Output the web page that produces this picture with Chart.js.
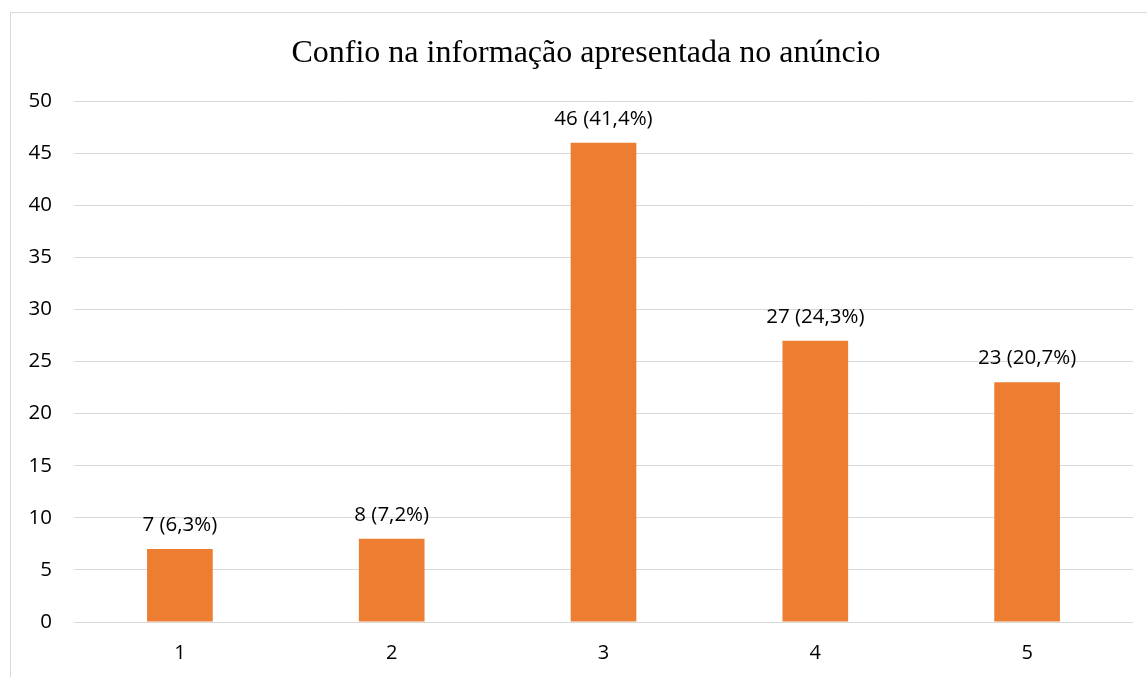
<!DOCTYPE html>
<html>
<head>
<meta charset="utf-8">
<script src="https://cdn.jsdelivr.net/npm/chart.js@4"></script>
<style>
  html, body { margin: 0; padding: 0; background: #fff; overflow: hidden; }
  #wrap { position: absolute; left: 0; top: 0; width: 1147px; height: 677px; }
</style>
</head>
<body>
<div id="wrap"><canvas id="chart" width="1147" height="677"></canvas></div>
<script>
// Respostas por nível de confiança
var categories = ['1', '2', '3', '4', '5'];
var counts = [7, 8, 46, 27, 23];
var yTicks = [0, 5, 10, 15, 20, 25, 30, 35, 40, 45, 50];

var total = counts.reduce(function (a, b) { return a + b; }, 0);

function pctLabel(v) {
    var p = (v / total * 100).toFixed(1).replace('.', ',');
    return v + ' (' + p + '%)';
}

// moldura cinza à volta do gráfico; o título fica centrado na moldura
var framePlugin = {
    id: 'frame',
    afterLayout: function (chart) {
        if (chart.titleBlock) {
            chart.titleBlock.left = 39;
        }
    },
    beforeDraw: function (chart) {
        var ctx = chart.ctx;
        ctx.save();
        ctx.fillStyle = '#fff';
        ctx.fillRect(0, 0, chart.width, chart.height);
        ctx.strokeStyle = '#d9d9d9';
        ctx.lineWidth = 1;
        ctx.strokeRect(10.5, 12.5, chart.width + 20, chart.height + 20);
        ctx.restore();
    }
};

// rótulos de valor por cima das barras
var valueLabels = {
    id: 'valueLabels',
    afterDatasetsDraw: function (chart) {
        var ctx = chart.ctx;
        var meta = chart.getDatasetMeta(0);
        ctx.save();
        ctx.font = '20.5px "Open Sans", sans-serif';
        ctx.fillStyle = '#000';
        ctx.textAlign = 'center';
        ctx.textBaseline = 'alphabetic';
        meta.data.forEach(function (bar, i) {
            ctx.fillText(pctLabel(counts[i]), bar.x, bar.y - 18);
        });
        ctx.restore();
    }
};

var ctx = document.getElementById('chart').getContext('2d');
var myChart = new Chart(ctx, {
    type: 'bar',
    data: {
        labels: categories,
        datasets: [{
            data: counts,
            backgroundColor: '#ED7D31',
            borderWidth: 0,
            categoryPercentage: 1,
            barPercentage: 0.31
        }]
    },
    options: {
        responsive: false,
        animation: false,
        layout: { padding: { left: 0, right: 14, top: 20, bottom: 0 } },
        plugins: {
            legend: { display: false },
            tooltip: { enabled: false },
            title: {
                display: true,
                text: 'Confio na informação apresentada no anúncio',
                color: '#000',
                font: { family: '"Liberation Serif", "Times New Roman", serif', size: 32, weight: 'normal', lineHeight: 1.2 },
                padding: { top: 14.8, bottom: 27.8 }
            }
        },
        scales: {
            x: {
                grid: { display: false, drawTicks: false },
                border: { display: false },
                ticks: {
                    color: '#000',
                    font: { family: '"Open Sans", sans-serif', size: 20 },
                    padding: 19
                },
                afterFit: function (s) { s.height = 55; }
            },
            y: {
                min: 0,
                max: 50,
                afterBuildTicks: function (s) {
                    s.ticks = yTicks.map(function (v) { return { value: v }; });
                },
                grid: { color: '#d9d9d9', lineWidth: 1, drawTicks: false },
                border: { display: false },
                ticks: {
                    color: '#000',
                    font: { family: '"Open Sans", sans-serif', size: 20.5 },
                    padding: 22
                },
                afterFit: function (s) { s.width = 74; }
            }
        }
    },
    plugins: [framePlugin, valueLabels]
});
</script>
</body>
</html>
